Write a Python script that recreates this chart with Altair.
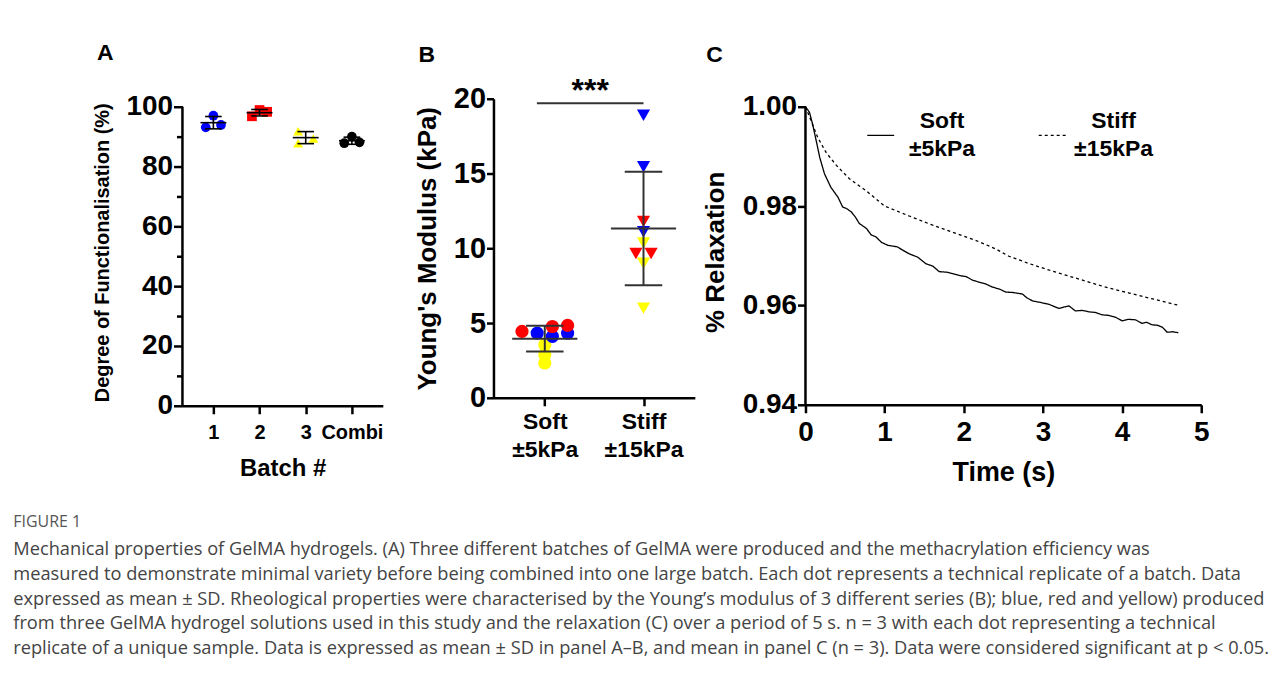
import altair as alt
import pandas as pd

FONT = "Liberation Sans"
CAP_FONT = "Open Sans"

# ---------------- Panel A data ----------------
batch_labels = ["1", "2", "3", "Combi"]
dof_batch = ["1", "1", "1", "2", "2", "2", "3", "3", "3", "Combi", "Combi", "Combi"]
dof_values = [97.0, 93.1, 93.9, 96.8, 98.9, 98.3, 91.8, 87.8, 89.4, 87.8, 90.0, 88.1]
dof_slot = [0, -1, 1, -1, 0, 1, -1, -1, 1, -1, 0, 1]
batch_colors = ["#0000FF", "#FF0000", "#FFFF00", "#000000"]
batch_shapes = ["circle", "square", "triangle-up", "circle"]

# ---------------- Panel B data ----------------
groups = ["Soft", "Stiff"]
group_labels = [["Soft", "±5kPa"], ["Stiff", "±15kPa"]]
ym_group = ["Soft"] * 9 + ["Stiff"] * 9
ym_series = ["yellow", "yellow", "yellow", "blue", "blue", "blue", "red", "red", "red",
             "yellow", "yellow", "yellow", "red", "red", "red", "blue", "blue", "blue"]
ym_values = [3.55, 2.89, 2.33, 4.33, 4.11, 4.33, 4.44, 4.77, 4.84,
             10.35, 9.0, 6.0, 11.8, 9.65, 9.65, 18.9, 15.45, 11.1]
ym_slot = [0, 0, 0, -1, 1, 3, -3, 1, 3,
           0, 0, 0, 0, -1, 1, 0, 0, 0]
series_names = ["blue", "red", "yellow"]
series_colors = ["#0000FF", "#FF0000", "#FFFF00"]
sig_label = "***"
sig_level = 19.7

# ---------------- Panel C data ----------------
soft_t = [0, 0.05, 0.09, 0.135, 0.18, 0.24, 0.32, 0.41, 0.47, 0.52, 0.58, 0.63, 0.68, 0.77, 0.83,
          0.89, 0.96, 1.04, 1.16, 1.22, 1.31, 1.42, 1.52, 1.61, 1.69, 1.78, 1.86, 1.95, 2.03, 2.11,
          2.19, 2.28, 2.36, 2.45, 2.53, 2.62, 2.74, 2.80, 2.87, 2.97, 3.08, 3.20, 3.27, 3.33, 3.41,
          3.50, 3.58, 3.66, 3.75, 3.83, 3.92, 4.00, 4.08, 4.17, 4.25, 4.31, 4.38, 4.45, 4.51, 4.57,
          4.64, 4.71]
soft_v = [1.0, 0.9989, 0.9965, 0.9932, 0.9898, 0.9865, 0.9838, 0.9818, 0.9798, 0.9795, 0.9788,
          0.9778, 0.9765, 0.9755, 0.9742, 0.9738, 0.9727, 0.9721, 0.9718, 0.9712, 0.9704, 0.9697,
          0.9684, 0.9679, 0.9668, 0.9667, 0.9664, 0.9660, 0.9658, 0.9651, 0.9647, 0.9643, 0.9637,
          0.9633, 0.9627, 0.9626, 0.9623, 0.9615, 0.9609, 0.9606, 0.9602, 0.9594, 0.9597, 0.9599,
          0.9589, 0.9590, 0.9587, 0.9586, 0.9581, 0.9580, 0.9576, 0.9569, 0.9572, 0.9571, 0.9564,
          0.9566, 0.9561, 0.9560, 0.9556, 0.9546, 0.9547, 0.9545]
stiff_t = [0, 0.07, 0.155, 0.26, 0.39, 0.555, 0.765, 1.0, 1.31, 1.6, 1.9, 2.15, 2.4, 2.57, 2.83,
           3.08, 3.33, 3.58, 3.83, 4.09, 4.34, 4.59, 4.72]
stiff_v = [1.0, 0.9972, 0.9938, 0.9908, 0.9882, 0.9855, 0.9831, 0.9800, 0.9780, 0.9762, 0.9745,
           0.9731, 0.9714, 0.9699, 0.9684, 0.9671, 0.9659, 0.9647, 0.9635, 0.9625, 0.9615, 0.9605,
           0.9600]
curve_names = ["Soft", "Stiff"]
curve_labels = [["Soft", "±5kPa"], ["Stiff", "±15kPa"]]

caption_title = "FIGURE 1"
caption_lines = [
    "Mechanical properties of GelMA hydrogels. (A) Three different batches of GelMA were produced and the methacrylation efficiency was",
    "measured to demonstrate minimal variety before being combined into one large batch. Each dot represents a technical replicate of a batch. Data",
    "expressed as mean ± SD. Rheological properties were characterised by the Young\u2019s modulus of 3 different series (B); blue, red and yellow) produced",
    "from three GelMA hydrogel solutions used in this study and the relaxation (C) over a period of 5 s. n = 3 with each dot representing a technical",
    "replicate of a unique sample. Data is expressed as mean ± SD in panel A\u2013B, and mean in panel C (n = 3). Data were considered significant at p < 0.05.",
]

# Panel B sits 8 px higher than A and C in the figure; A and C get 8 px of
# headroom above their top tick, with the y axis line drawn only over the tick range.
HEADROOM = 8

# ---------------- Panel A ----------------
A_H = 300
dfA = pd.DataFrame({"batch": dof_batch, "value": dof_values, "slot": dof_slot})
dfA["idx"] = dfA["batch"].map({b: i + 1 for i, b in enumerate(batch_labels)})

xA_dom = [0.33, 4.67]
yA_dom = [0, 100]
xA_scale = alt.Scale(domain=xA_dom, nice=False, zero=False)
yA_scale = alt.Scale(domain=[yA_dom[0], yA_dom[1] + (yA_dom[1] - yA_dom[0]) * HEADROOM / A_H], nice=False)
xA_axis = alt.Axis(values=[1, 2, 3, 4], title="Batch #", labelFlush=False,
                   labelExpr="datum.value == 4 ? 'Combi' : datum.label",
                   labelFontSize=20, labelPadding=9, tickSize=8, titleFontSize=24, titlePadding=14)
yA_axis = alt.Axis(values=list(range(0, 101, 10)), title="Degree of Functionalisation (%)",
                   labelExpr="datum.value % 20 == 0 ? datum.label : ''", domain=False, labelFlush=False,
                   tickSize={"condition": {"test": "datum.value % 20 == 0", "value": 9}, "value": 6},
                   labelFontSize=28, labelPadding=1, titleFontSize=20, titlePadding=13)

baseA = alt.Chart(dfA)
pointsA = baseA.transform_calculate(xj="datum.idx + datum.slot * 0.165").mark_point(
    filled=True, size=95, opacity=1
).encode(
    x=alt.X("xj:Q", scale=xA_scale, axis=xA_axis),
    y=alt.Y("value:Q", scale=yA_scale, axis=yA_axis),
    color=alt.Color("batch:N", scale=alt.Scale(domain=batch_labels, range=batch_colors), legend=None),
    shape=alt.Shape("batch:N", scale=alt.Scale(domain=batch_labels, range=batch_shapes), legend=None),
)
aggA = baseA.transform_aggregate(
    mean="mean(value)", sd="stdev(value)", groupby=["idx"]
).transform_calculate(
    lo="datum.mean - datum.sd", hi="datum.mean + datum.sd",
    ml="datum.idx - 0.28", mr="datum.idx + 0.28",
    cl="datum.idx - 0.18", cr="datum.idx + 0.18",
)
meanA = aggA.mark_rule(color="black", strokeWidth=1.6).encode(
    x=alt.X("ml:Q", scale=xA_scale, axis=xA_axis), x2="mr:Q", y=alt.Y("mean:Q", scale=yA_scale, axis=yA_axis))
capHiA = aggA.mark_rule(color="black", strokeWidth=1.6).encode(
    x=alt.X("cl:Q", scale=xA_scale, axis=xA_axis), x2="cr:Q", y=alt.Y("hi:Q", scale=yA_scale, axis=yA_axis))
capLoA = aggA.mark_rule(color="black", strokeWidth=1.6).encode(
    x=alt.X("cl:Q", scale=xA_scale, axis=xA_axis), x2="cr:Q", y=alt.Y("lo:Q", scale=yA_scale, axis=yA_axis))
vertA = aggA.mark_rule(color="black", strokeWidth=1.6).encode(
    x=alt.X("idx:Q", scale=xA_scale, axis=xA_axis), y=alt.Y("lo:Q", scale=yA_scale, axis=yA_axis), y2="hi:Q")
axisLineA = alt.Chart(pd.DataFrame({"x": [xA_dom[0]], "y0": [yA_dom[0]], "y1": [yA_dom[1]]})).mark_rule(
    color="black", strokeWidth=2.5).encode(
    x=alt.X("x:Q", scale=xA_scale, axis=xA_axis), y=alt.Y("y0:Q", scale=yA_scale, axis=yA_axis), y2="y1:Q")

chartA = alt.layer(pointsA, meanA, capHiA, capLoA, vertA, axisLineA).properties(
    width=201, height=A_H + HEADROOM,
    title=alt.TitleParams("A", anchor="start", fontSize=23, font=FONT, fontWeight="bold", dx=4, offset=28),
)

# ---------------- Panel B ----------------
dfB = pd.DataFrame({"group": ym_group, "series": ym_series, "value": ym_values, "slot": ym_slot})
dfB["idx"] = dfB["group"].map({g: i for i, g in enumerate(groups)})
label_expr_B = "datum.value == 0 ? %s : %s" % (
    "['" + "','".join(group_labels[0]) + "']", "['" + "','".join(group_labels[1]) + "']")

xB_scale = alt.Scale(domain=[-0.52, 1.52], nice=False, zero=False)
yB_scale = alt.Scale(domain=[0, 20], nice=False)
xB_axis = alt.Axis(values=[0, 1], title=None, labelExpr=label_expr_B, labelFlush=False,
                   labelFontSize=23, labelPadding=5, tickSize=8)
yB_axis = alt.Axis(values=[0, 5, 10, 15, 20], title="Young's Modulus (kPa)", labelFlush=False,
                   labelFontSize=29, labelPadding=1, tickSize=7, titleFontSize=26, titlePadding=13)
baseB = alt.Chart(dfB)
pointsB = baseB.transform_window(rank="row_number()").transform_calculate(
    xj="datum.idx + datum.slot * 0.077").mark_point(filled=True, size=175, opacity=1).encode(
    x=alt.X("xj:Q", scale=xB_scale, axis=xB_axis),
    y=alt.Y("value:Q", scale=yB_scale, axis=yB_axis),
    color=alt.Color("series:N", scale=alt.Scale(domain=series_names, range=series_colors), legend=None),
    shape=alt.Shape("group:N", scale=alt.Scale(domain=groups, range=["circle", "triangle-down"]), legend=None),
    order=alt.Order("rank:Q"),
)
aggB = baseB.transform_aggregate(
    mean="mean(value)", sd="stdev(value)", groupby=["idx"]
).transform_calculate(
    lo="datum.mean - datum.sd", hi="datum.mean + datum.sd",
    ml="datum.idx - 0.33", mr="datum.idx + 0.33",
    cl="datum.idx - 0.19", cr="datum.idx + 0.19",
)
ebColor = "#333333"
meanB = aggB.mark_rule(color=ebColor, strokeWidth=2).encode(
    x=alt.X("ml:Q", scale=xB_scale, axis=xB_axis), x2="mr:Q", y=alt.Y("mean:Q", scale=yB_scale, axis=yB_axis))
capHiB = aggB.mark_rule(color=ebColor, strokeWidth=2).encode(
    x=alt.X("cl:Q", scale=xB_scale, axis=xB_axis), x2="cr:Q", y=alt.Y("hi:Q", scale=yB_scale, axis=yB_axis))
capLoB = aggB.mark_rule(color=ebColor, strokeWidth=2).encode(
    x=alt.X("cl:Q", scale=xB_scale, axis=xB_axis), x2="cr:Q", y=alt.Y("lo:Q", scale=yB_scale, axis=yB_axis))
vertB = aggB.mark_rule(color=ebColor, strokeWidth=2).encode(
    x=alt.X("idx:Q", scale=xB_scale, axis=xB_axis), y=alt.Y("lo:Q", scale=yB_scale, axis=yB_axis), y2="hi:Q")

dfSig = pd.DataFrame({"x1": [-0.08], "x2": [1.0], "level": [sig_level], "label": [sig_label]})
sigRule = alt.Chart(dfSig).mark_rule(color=ebColor, strokeWidth=2).encode(
    x=alt.X("x1:Q", scale=xB_scale, axis=xB_axis), x2="x2:Q", y=alt.Y("level:Q", scale=yB_scale, axis=yB_axis))
sigText = alt.Chart(dfSig).transform_calculate(
    xm="(datum.x1 + datum.x2) / 2", ty="datum.level + 0.8"
).mark_text(font=FONT, fontWeight="bold", fontSize=32, baseline="middle", color="black").encode(
    x=alt.X("xm:Q", scale=xB_scale, axis=xB_axis), y=alt.Y("ty:Q", scale=yB_scale, axis=yB_axis), text="label:N")

chartB = alt.layer(pointsB, meanB, capHiB, capLoB, vertB, sigRule, sigText).properties(
    width=202, height=300,
    title=alt.TitleParams("B", anchor="start", fontSize=23, font=FONT, fontWeight="bold", dx=4, offset=8),
)

# ---------------- Panel C ----------------
C_H = 299
xC_dom = [0, 5]
yC_dom = [0.94, 1.0]
dfC = pd.concat([
    pd.DataFrame({"t": soft_t, "v": soft_v, "curve": curve_names[0]}),
    pd.DataFrame({"t": stiff_t, "v": stiff_v, "curve": curve_names[1]}),
])
label_expr_C = "datum.label == '%s' ? %s : %s" % (
    curve_names[0],
    "['" + "','".join(curve_labels[0]) + "']", "['" + "','".join(curve_labels[1]) + "']")
xC_scale = alt.Scale(domain=xC_dom, nice=False)
yC_scale = alt.Scale(domain=[yC_dom[0], yC_dom[1] + (yC_dom[1] - yC_dom[0]) * HEADROOM / C_H],
                     nice=False, zero=False)
xC_axis = alt.Axis(values=[0, 1, 2, 3, 4, 5], title="Time (s)", labelFontSize=28, labelPadding=6,
                   labelFlush=False, tickSize=8, titleFontSize=27, titlePadding=13)
yC_axis = alt.Axis(values=[0.94, 0.96, 0.98, 1.0], format=".2f", title="% Relaxation", labelFontSize=28,
                   labelFlush=False, labelPadding=1, tickSize=8, titleFontSize=26, titlePadding=14,
                   domain=False)
linesC = alt.Chart(dfC).mark_line(color="black", strokeWidth=1.3).encode(
    x=alt.X("t:Q", scale=xC_scale, axis=xC_axis),
    y=alt.Y("v:Q", scale=yC_scale, axis=yC_axis),
    strokeDash=alt.StrokeDash("curve:N", scale=alt.Scale(domain=curve_names, range=[[1, 0], [3, 3]]),
                              legend=alt.Legend(
                                  title=None, orient="none", direction="horizontal", legendX=61, legendY=22,
                                  symbolType="stroke", symbolSize=729, symbolStrokeWidth=1.3,
                                  symbolStrokeColor="black", labelExpr=label_expr_C, labelAlign="center",
                                  labelBaseline="line-bottom",
                                  labelOffset=47, labelFontSize=23, labelFont=FONT, labelFontWeight="bold",
                                  labelColor="black", columnPadding=60, labelLimit=300)),
    order="t:Q",
)
axisLineC = alt.Chart(pd.DataFrame({"x": [xC_dom[0]], "y0": [yC_dom[0]], "y1": [yC_dom[1]]})).mark_rule(
    color="black", strokeWidth=2.5).encode(
    x=alt.X("x:Q", scale=xC_scale, axis=xC_axis), y=alt.Y("y0:Q", scale=yC_scale, axis=yC_axis), y2="y1:Q")

chartC = alt.layer(linesC, axisLineC).properties(
    width=397, height=C_H + HEADROOM,
    title=alt.TitleParams("C", anchor="start", fontSize=23, font=FONT, fontWeight="bold", dx=4, offset=26),
)

inner = alt.hconcat(chartA, chartB, spacing=30).resolve_scale(
    color="independent", shape="independent")
top = alt.hconcat(inner, chartC, spacing=7).resolve_scale(
    color="independent", shape="independent", strokeDash="independent"
).resolve_legend(strokeDash="independent")

chart = top.properties(
    padding={"left": 5, "top": 33, "right": 5, "bottom": 5},
    title=alt.TitleParams(
        caption_title, subtitle=caption_lines, orient="bottom", anchor="start", dx=-80, offset=29,
        font=CAP_FONT, fontSize=16, fontWeight="normal", color="#555555",
        subtitleFont=CAP_FONT, subtitleFontSize=18.3, subtitleColor="#444444", subtitleLineHeight=24.75,
        subtitlePadding=11),
).configure(style={"guide-label": {"lineHeight": 28}}).configure_view(stroke=None).configure_axis(
    grid=False, domainColor="black", domainWidth=2.5, tickColor="black", tickWidth=2.5,
    labelFont=FONT, labelFontWeight="bold", labelColor="black", titleFont=FONT, titleFontWeight="bold",
    titleColor="black", labelLimit=300,
)

chart.save("out.html", embed_options={"renderer": "svg", "actions": False})
